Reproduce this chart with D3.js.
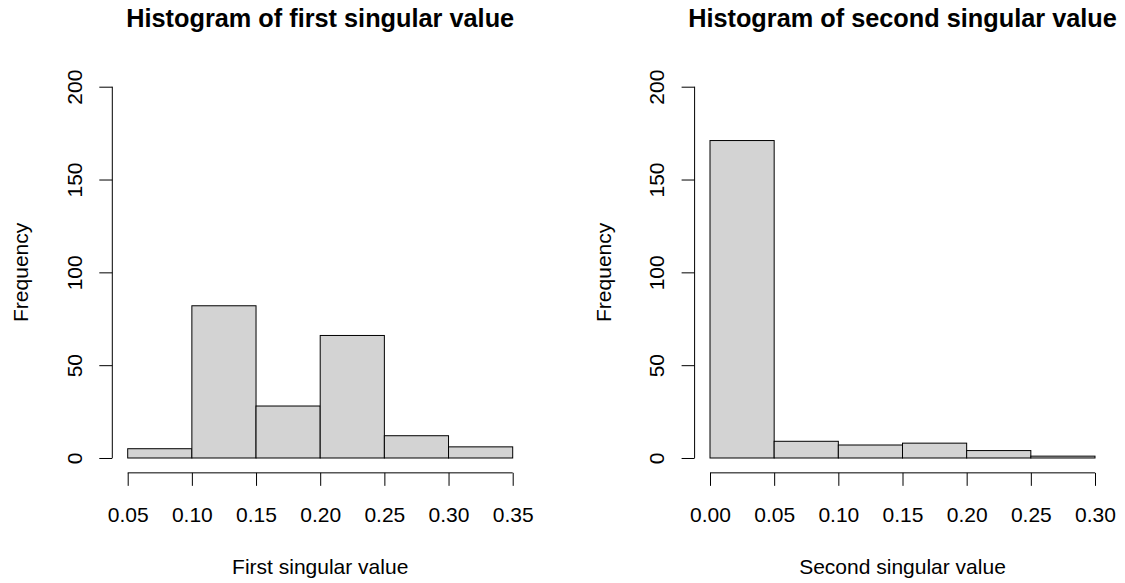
<!DOCTYPE html>
<html>
<head>
<meta charset="utf-8">
<script src="https://cdn.jsdelivr.net/npm/d3@7"></script>
<style>
  html, body { margin: 0; padding: 0; background: #ffffff; }
  svg { display: block; }
  text { font-family: "Liberation Sans", Arial, Helvetica, sans-serif; fill: #000; }
</style>
</head>
<body>
<script>
// ---- data ----
const breaks1 = [0.05, 0.10, 0.15, 0.20, 0.25, 0.30, 0.35];
const counts1 = [5, 82, 28, 66, 12, 6];
const breaks2 = [0.00, 0.05, 0.10, 0.15, 0.20, 0.25, 0.30];
const counts2 = [171, 9, 7, 8, 4, 1];
const xTicks1 = ["0.05", "0.10", "0.15", "0.20", "0.25", "0.30", "0.35"];
const xTicks2 = ["0.00", "0.05", "0.10", "0.15", "0.20", "0.25", "0.30"];
const yTicks = [0, 50, 100, 150, 200];
const titles = ["Histogram of first singular value", "Histogram of second singular value"];
const xLabels = ["First singular value", "Second singular value"];
const yLabel = "Frequency";

const W = 1125, H = 583;
const svg = d3.select("body").append("svg").attr("width", W).attr("height", H);

const FS = 21;
const panels = [
  { left: 112.3, right: 528.1, breaks: breaks1, counts: counts1, ticks: xTicks1, title: titles[0], xlab: xLabels[0] },
  { left: 694.6, right: 1110.4, breaks: breaks2, counts: counts2, ticks: xTicks2, title: titles[1], xlab: xLabels[1] }
];
const plotTop = 71.85, plotBottom = 472.85;

panels.forEach(p => {
  const b0 = p.breaks[0], b1 = p.breaks[p.breaks.length - 1];
  const ext = (b1 - b0) * 0.04;
  const x = d3.scaleLinear().domain([b0 - ext, b1 + ext]).range([p.left, p.right]);
  const y = d3.scaleLinear().domain([-8, 208]).range([plotBottom, plotTop]);
  const g = svg.append("g");

  // bars
  const bins = p.counts.map((c, i) => ({ x0: p.breaks[i], x1: p.breaks[i + 1], c }));
  g.selectAll("rect.bar").data(bins).join("rect")
    .attr("class", "bar")
    .attr("x", d => x(d.x0))
    .attr("y", d => y(d.c))
    .attr("width", d => x(d.x1) - x(d.x0))
    .attr("height", d => y(0) - y(d.c))
    .attr("fill", "#d3d3d3")
    .attr("stroke", "#000")
    .attr("stroke-width", 1);

  // x axis
  const xa = g.append("g").attr("transform", `translate(0,${plotBottom})`)
    .call(d3.axisBottom(x).tickValues(p.breaks).tickFormat((d, i) => p.ticks[i]).tickSize(13).tickSizeOuter(0));
  xa.select(".domain").remove();
  xa.append("line").attr("x1", x(b0)).attr("x2", x(b1)).attr("y1", 0).attr("y2", 0)
    .attr("stroke", "#000").attr("stroke-width", 1);
  xa.selectAll(".tick line").attr("stroke", "#000").attr("stroke-width", 1);
  xa.selectAll(".tick text").attr("y", 49.5).attr("dy", null)
    .style("font-size", FS + "px").style("font-family", "'Liberation Sans', Arial, sans-serif").attr("fill", "#000");

  // y axis
  const ya = g.append("g").attr("transform", `translate(${p.left},0)`)
    .call(d3.axisLeft(y).tickValues(yTicks).tickSize(13).tickSizeOuter(0));
  ya.select(".domain").remove();
  ya.append("line").attr("x1", 0).attr("x2", 0).attr("y1", y(yTicks[0])).attr("y2", y(yTicks[yTicks.length - 1]))
    .attr("stroke", "#000").attr("stroke-width", 1);
  ya.selectAll(".tick line").attr("stroke", "#000").attr("stroke-width", 1);
  ya.selectAll(".tick text").attr("x", null).attr("dy", null)
    .attr("transform", "translate(-30.5,0) rotate(-90)")
    .attr("text-anchor", "middle")
    .style("font-size", FS + "px").style("font-family", "'Liberation Sans', Arial, sans-serif").attr("fill", "#000");

  const cx = (p.left + p.right) / 2;
  // title
  svg.append("text").attr("x", cx).attr("y", 27).attr("text-anchor", "middle")
    .style("font-size", "25.3px").style("font-weight", "bold").text(p.title);
  // x label
  svg.append("text").attr("x", cx).attr("y", 574).attr("text-anchor", "middle")
    .style("font-size", FS + "px").text(p.xlab);
  // y label
  svg.append("text").attr("transform", `translate(${p.left - 84},${(plotTop + plotBottom) / 2}) rotate(-90)`)
    .attr("text-anchor", "middle").style("font-size", FS + "px").text(yLabel);
});
</script>
</body>
</html>
